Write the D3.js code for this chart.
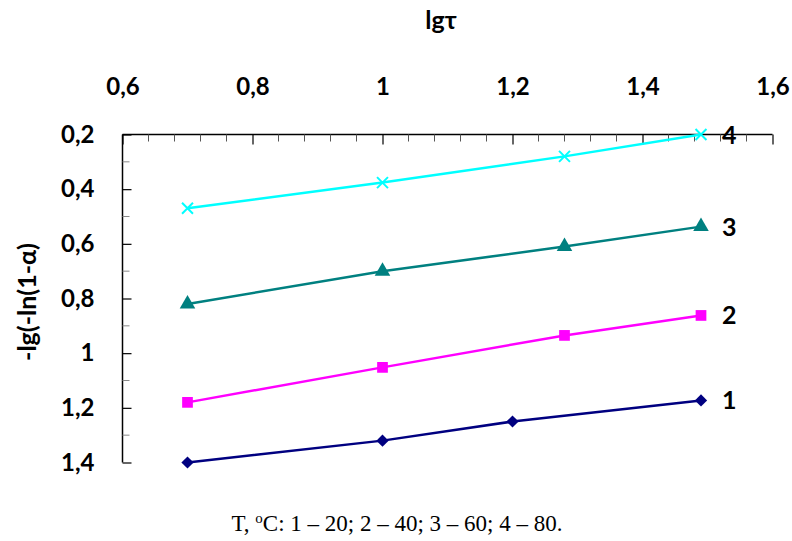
<!DOCTYPE html>
<html><head><meta charset="utf-8">
<script src="https://cdn.jsdelivr.net/npm/d3@7"></script>
<style>body{margin:0;background:#fff}</style>
</head><body>
<svg id="c" width="792" height="541"></svg>
<script>
const xTicks = [0.6, 0.8, 1.0, 1.2, 1.4, 1.6];
const yTicks = [0.2, 0.4, 0.6, 0.8, 1.0, 1.2, 1.4];
const s1x = [0.7, 1.0, 1.2, 1.49], s1y = [1.40, 1.32, 1.25, 1.173];
const s2x = [0.7, 1.0, 1.28, 1.49], s2y = [1.18, 1.052, 0.935, 0.862];
const s3x = [0.7, 1.0, 1.28, 1.49], s3y = [0.82, 0.70, 0.61, 0.537];
const s4x = [0.7, 1.0, 1.28, 1.49], s4y = [0.47, 0.376, 0.28, 0.20];
const seriesNames = ["1", "2", "3", "4"];
const caption = "T, ºC: 1 – 20; 2 – 40; 3 – 60; 4 – 80.";

const svg = d3.select("#c");
const L = 122.5, R = 772.5, T = 134.5, B = 462.5;
const x = d3.scaleLinear().domain([0.6, 1.6]).range([L, R]);
const y = d3.scaleLinear().domain([0.2, 1.4]).range([T, B]);
const fmt = d => String(+d.toFixed(1)).replace(".", ",");
const font = "Lato, 'Open Sans', sans-serif";

const xMinor = d3.range(0, 26).map(i => 0.6 + i * 0.04).filter(v => Math.abs((v - 0.6) / 0.2 - Math.round((v - 0.6) / 0.2)) > 1e-6);
const yMinor = [0.3, 0.5, 0.7, 0.9, 1.1, 1.3];

const gx = svg.append("g").attr("transform", `translate(0,${T})`);
gx.call(d3.axisTop(x).tickValues(xTicks).tickFormat(fmt).tickSize(-10).tickSizeOuter(0));
gx.select(".domain").attr("stroke", "#000").attr("stroke-width", 1.5).attr("d", `M${L},0H${R}`);
gx.selectAll(".tick line").attr("stroke", "#000").attr("stroke-width", 1.2);
gx.selectAll(".tick text").attr("font-family", font).attr("font-weight", "bold").attr("font-size", 24).attr("fill", "#000").attr("y", -40);
gx.append("g").selectAll("line").data(xMinor).join("line")
  .attr("x1", d => x(d)).attr("x2", d => x(d)).attr("y1", 0).attr("y2", 7)
  .attr("stroke", "#555").attr("stroke-width", 1);

const gy = svg.append("g").attr("transform", `translate(${L},0)`);
gy.call(d3.axisLeft(y).tickValues(yTicks).tickFormat(fmt).tickSize(-9).tickSizeOuter(0));
gy.select(".domain").attr("stroke", "#000").attr("stroke-width", 1.5).attr("d", `M0,${T}V${B}`);
gy.selectAll(".tick line").attr("stroke", "#000").attr("stroke-width", 1.2);
gy.selectAll(".tick text").attr("font-family", font).attr("font-weight", "bold").attr("font-size", 24).attr("fill", "#000").attr("x", -28);
gy.append("g").selectAll("line").data(yMinor).join("line")
  .attr("y1", d => y(d)).attr("y2", d => y(d)).attr("x1", 0).attr("x2", 7)
  .attr("stroke", "#888").attr("stroke-width", 1);

svg.append("text").attr("x", 441).attr("y", 29).attr("text-anchor", "middle")
  .attr("font-family", font).attr("font-weight", "bold").attr("font-size", 25).text("lgτ");
svg.append("text").attr("transform", "translate(36,302) rotate(-90)").attr("text-anchor", "middle")
  .attr("font-family", font).attr("font-weight", "bold").attr("font-size", 25).text("-lg(-ln(1-α)");

const series = [
  {xs: s1x, ys: s1y, color: "#000080", sym: d3.symbolSquare, size: 75, rot: 45},
  {xs: s2x, ys: s2y, color: "#FF00FF", sym: d3.symbolSquare, size: 115, rot: 0},
  {xs: s3x, ys: s3y, color: "#008080", sym: d3.symbolTriangle, size: 105, rot: 0},
  {xs: s4x, ys: s4y, color: "#00FFFF", sym: d3.symbolX, size: 80, rot: 0}
];
const line = d3.line().x(d => x(d[0])).y(d => y(d[1]));
series.forEach((s, i) => {
  const pts = s.xs.map((v, j) => [v, s.ys[j]]);
  svg.append("path").attr("d", line(pts)).attr("fill", "none").attr("stroke", s.color).attr("stroke-width", 2.5);
  const g = svg.append("g");
  g.selectAll("path").data(pts).join("path")
    .attr("transform", d => `translate(${x(d[0])},${y(d[1])}) rotate(${s.rot})`)
    .attr("d", d3.symbol().type(s.sym).size(s.size))
    .attr("fill", s.sym === d3.symbolX ? "none" : s.color)
    .attr("stroke", s.color).attr("stroke-width", s.sym === d3.symbolX ? 2 : 0);
  const last = pts[pts.length - 1];
  svg.append("text").attr("x", x(last[0]) + 21).attr("y", y(last[1]) + 9)
    .attr("font-family", font).attr("font-weight", "bold").attr("font-size", 25).text(seriesNames[i]);
});

const cap = svg.append("text").attr("x", 397).attr("y", 531).attr("text-anchor", "middle")
  .attr("font-family", "'Liberation Serif', 'Times New Roman', serif").attr("font-size", 23);
const parts = caption.split("º");
cap.append("tspan").text(parts[0]);
cap.append("tspan").attr("dy", -8).attr("font-size", 15).text("o");
cap.append("tspan").attr("dy", 8).text(parts[1]);
</script>
</body></html>
